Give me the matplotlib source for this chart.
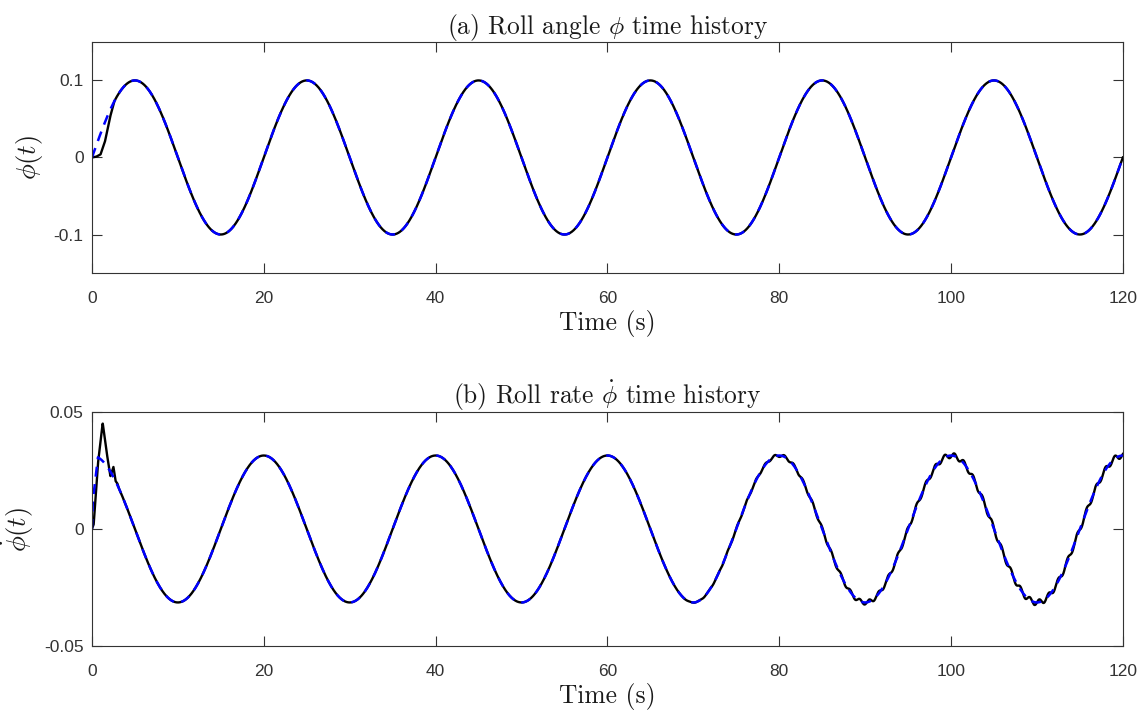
import matplotlib
matplotlib.use("Agg")
import matplotlib.pyplot as plt
import numpy as np

plt.rcParams['font.family'] = ['Liberation Sans', 'DejaVu Sans']
plt.rcParams['mathtext.fontset'] = 'cm'

# ---- values ----
# roll angle: extrema of the commanded wave (s, rad)
angle_peak_t = [-5, 5, 15, 25, 35, 45, 55, 65, 75, 85, 95, 105, 115, 125]
angle_peak_v = [-0.1, 0.1, -0.1, 0.1, -0.1, 0.1, -0.1, 0.1, -0.1, 0.1, -0.1, 0.1, -0.1, 0.1]
# actual roll angle start-up transient
angle_start_t = [0, 0.5, 1.0, 1.5, 2.1, 2.6]
angle_start_v = [0, 0.001, 0.004, 0.02, 0.052, 0.0729]

# roll rate: extrema of the commanded wave
rate_peak_t = [0, 10, 20, 30, 40, 50, 60, 70, 80, 90, 100, 110, 120]
rate_peak_v = [0.0314, -0.0314, 0.0314, -0.0314, 0.0314, -0.0314, 0.0314,
               -0.0314, 0.0314, -0.0314, 0.0314, -0.0314, 0.0314]
# commanded rate start
rate_ref_start_t = [0, 0.1, 0.7]
rate_ref_start_v = [0, 0.012, 0.0306]
# actual rate start-up transient
rate_start_t = [0, 0.2, 0.7, 1.25, 1.7, 2.15, 2.5, 2.75, 2.95, 3.15]
rate_start_v = [0, 0.002, 0.028, 0.0453, 0.033, 0.0225, 0.0265, 0.0205, 0.0195, 0.0172]
# small oscillation on the actual rate late in the run
ripple_t = [0, 68, 75, 85, 95, 105, 120]
ripple_amp = [0, 0, 0.0004, 0.0008, 0.001, 0.0012, 0.0012]
ripple_period = 1.1

xticks = [0, 20, 40, 60, 80, 100, 120]


def wave(t, tk, vk):
    # half-cosine segments between successive extrema
    tk = np.asarray(tk, float)
    vk = np.asarray(vk, float)
    i = np.clip(np.searchsorted(tk, t) - 1, 0, len(tk) - 2)
    s = (t - tk[i]) / (tk[i + 1] - tk[i])
    return vk[i] + (vk[i + 1] - vk[i]) * (1 - np.cos(np.pi * s)) / 2


t = np.linspace(0, 120, 6001)

phi_ref = wave(t, angle_peak_t, angle_peak_v)
phi = phi_ref.copy()
m = t < angle_start_t[-1]
phi[m] = np.interp(t[m], angle_start_t, angle_start_v)

rate_ref = wave(t, rate_peak_t, rate_peak_v)
m = t < rate_ref_start_t[-1]
rate_ref[m] = np.interp(t[m], rate_ref_start_t, rate_ref_start_v)
rate = wave(t, rate_peak_t, rate_peak_v)
rate += np.interp(t, ripple_t, ripple_amp) * np.sin(2 * np.pi * t / ripple_period)
m = t < rate_start_t[-1]
rate[m] = np.interp(t[m], rate_start_t, rate_start_v)

fig = plt.figure(figsize=(11.48, 7.2), dpi=100)
ax1 = fig.add_axes([0.0801, 0.6208, 0.898, 0.321])
ax2 = fig.add_axes([0.0801, 0.1028, 0.898, 0.325])

gray = '#333333'
title_font = dict(family='cmr10', size=18.3, color='#1a1a1a')

for ax, y, yref, ylim, yticks, yticklabels, ylab, ttl in [
        (ax1, phi, phi_ref, (-0.15, 0.15), [-0.1, 0, 0.1], ['-0.1', '0', '0.1'],
         r'$\phi(t)$', r'(a) Roll angle $\phi$ time history'),
        (ax2, rate, rate_ref, (-0.05, 0.05), [-0.05, 0, 0.05], ['-0.05', '0', '0.05'],
         r'$\dot{\phi}(t)$', r'(b) Roll rate $\dot{\phi}$ time history')]:
    ax.plot(t, y, color='black', lw=1.7)
    ax.plot(t, yref, color='#0000FF', lw=1.8, ls=(0, (4, 3)))
    ax.set_xlim(0, 120)
    ax.set_ylim(*ylim)
    ax.set_xticks(xticks)
    ax.set_yticks(yticks)
    ax.set_yticklabels(yticklabels)
    ax.tick_params(direction='in', top=True, right=True, length=7.5, width=0.8,
                   labelsize=12.5, colors=gray, labelcolor=gray, pad=6)
    ax.tick_params(axis='x', pad=13)
    for sp in ax.spines.values():
        sp.set_color(gray)
        sp.set_linewidth(0.8)
    ax.set_title(ttl, pad=6, **title_font)
    ax.set_xlabel('Time (s)', labelpad=3, **title_font)
    ax.set_ylabel(ylab, fontsize=19, color='#1a1a1a', labelpad=6)

fig.savefig('out.png', dpi=100)
